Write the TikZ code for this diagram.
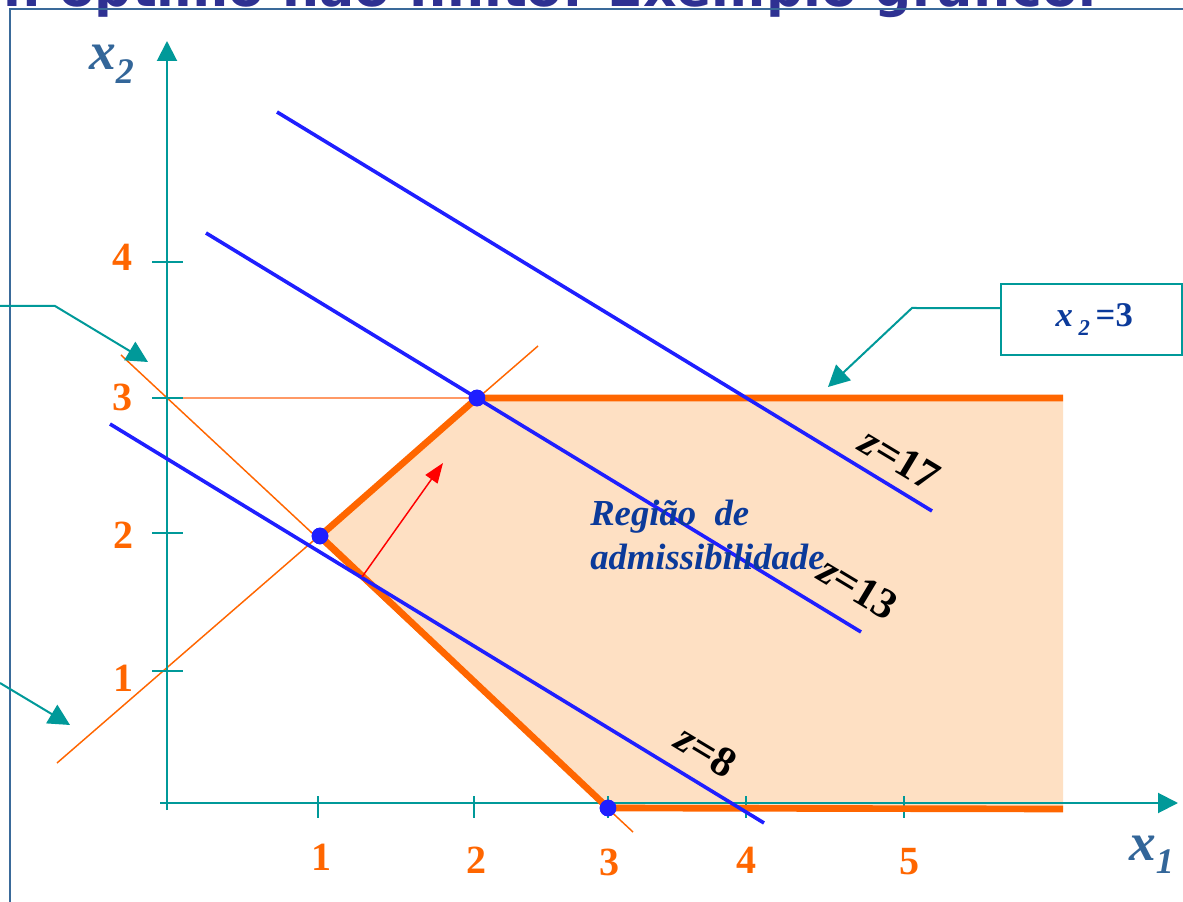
\documentclass[tikz,border=0pt]{standalone}
\usepackage{fontspec}
\setmainfont{Liberation Serif}
\newfontfamily\titlefont{DejaVu Sans}
\usetikzlibrary{arrows.meta}
\definecolor{tealc}{HTML}{009999}
\definecolor{orng}{HTML}{FF6600}
\definecolor{lorng}{HTML}{FF9966}
\definecolor{peach}{HTML}{FEE0C3}
\definecolor{zblue}{HTML}{1F1FFF}
\definecolor{txtblue}{HTML}{0B3A9A}
\definecolor{axlbl}{HTML}{336699}
\definecolor{framec}{HTML}{3A6A9A}
\definecolor{ttl}{HTML}{2E3192}
\begin{document}
\begin{tikzpicture}[x=0.75pt,y=-0.75pt,
  axisline/.style={draw=tealc, line width=1.5pt, -{Triangle[length=15pt,width=15pt]}},
  tickmark/.style={draw=tealc, line width=1.2pt},
  ticklbl/.style={text=orng, font=\fontsize{30}{30}\selectfont\bfseries, inner sep=0pt},
  axlabel/.style={text=axlbl, font=\fontsize{40}{40}\selectfont\bfseries\itshape, inner sep=0pt, anchor=base west},
  objline/.style={draw=zblue, line width=2.7pt},
  consline/.style={draw=orng, line width=1.1pt},
  boundline/.style={draw=orng, line width=5pt},
  vertexdot/.style={circle, fill=zblue, inner sep=0pt, minimum size=12.5pt},
  zlbl/.style={font=\fontsize{32}{32}\selectfont\bfseries, rotate=-31, inner sep=0pt},
  callout/.style={draw=tealc, line width=1.5pt, -{Triangle[length=16pt,width=16pt]}},
  regiontext/.style={text=txtblue, font=\fontsize{27.5}{31}\selectfont\bfseries\itshape, inner sep=0pt, anchor=base west}
]
\useasboundingbox (0,0) rectangle (1183,902);
\clip (0,0) rectangle (1183,902);
\fill[white] (0,0) rectangle (1183,902);

% title (cut off at top)
\node[anchor=base east, inner sep=0pt, text=ttl, font=\fontsize{39}{39}\selectfont\titlefont\bfseries] (title) at (1098,7) {n óptimo não finito: Exemplo gráfico.};

% frame
\draw[framec, line width=1.5pt] (10,902) -- (10,9) -- (1183,9);

% feasible region
\fill[peach] (320,536) -- (477,398) -- (1063,398) -- (1063,809) -- (608,809) -- cycle;

% constraint lines (thin)
\draw[consline] (121,355) -- (633,832);
\draw[consline] (57,763) -- (538,346);
\draw[draw=lorng, line width=1.1pt] (160,398) -- (477,398);

% axes
\draw[axisline] (167,810) -- (167,41);
\draw[axisline] (160,803) -- (1178,803);

% ticks
\foreach \xx in {318,474,608,746,904} \draw[tickmark] (\xx,796) -- (\xx,818);
\foreach \yy in {262,398,533,671} \draw[tickmark] (152,\yy) -- (183,\yy);

% vertices
\node[vertexdot] (A) at (320,536) {};
\node[vertexdot] (B) at (477,398) {};
\node[vertexdot] (C) at (608,808) {};

% boundary
\draw[boundline] (C.center) -- (A.center) -- (B.center) -- (1063,398);
\draw[boundline] (C.center) -- (1063,809);

% objective lines
\draw[objline] (110,424) -- (764,823);
\draw[objline] (206,233) -- (861,632);
\draw[objline] (277,112) -- (932,511);

% redraw dots on top
\node[vertexdot] at (A) {};
\node[vertexdot] at (B) {};
\node[vertexdot] at (C) {};

% gradient arrow
\coordinate (g0) at (362,577);
\coordinate (g1) at (443,463);
\draw[red, line width=1.1pt, -{Triangle[length=15pt,width=11pt]}] (g0) -- (g1);

% tick labels
\node[ticklbl] (lx1) at (321,857) {1};
\node[ticklbl] (lx2) at (476,860) {2};
\node[ticklbl] (lx3) at (609,862) {3};
\node[ticklbl] (lx4) at (746,860) {4};
\node[ticklbl] (lx5) at (909,862) {5};
\node[ticklbl] (ly4) at (122,257) {4};
\node[ticklbl] (ly3) at (122,397) {3};
\node[ticklbl] (ly2) at (123,535) {2};
\node[ticklbl] (ly1) at (123,678) {1};

% axis labels
\node[axlabel] (x2lbl) at (89,70) {x\raisebox{-10pt}{\fontsize{27}{27}\selectfont 2}};
\node[axlabel] (x1lbl) at (1129,860) {x\raisebox{-10pt}{\fontsize{27}{27}\selectfont 1}};

% region text
\node[regiontext] (reg1) at (590,526) {Região\ \ de};
\node[regiontext] (reg2) at (590,570) {admissibilidade};

% z labels
\node[zlbl] (z17) at (900,459) {\textit{z}=17};
\node[zlbl] (z13) at (858,588) {\textit{z}=13};
\node[zlbl] (z8) at (706,751) {\textit{z}=8};

% callout box
\node[draw=tealc, line width=1.5pt, minimum width=135.75pt, minimum height=53.25pt, inner sep=0pt,
      text=txtblue, font=\fontsize{26}{26}\selectfont\bfseries] (box) at (1091.5,319.5)
      {\hspace*{4pt}\textit{x}\,\raisebox{-7pt}{\fontsize{17}{17}\selectfont\textit{2}}\,=3};
\coordinate (bend1) at (912,308);
\coordinate (tip1) at (828,387);
\draw[callout] ([yshift=8.6pt]box.west) -- (bend1) -- (tip1);

% left callouts
\coordinate (s2) at (0,306);
\coordinate (bend2) at (55,306);
\coordinate (tip2) at (148,362);
\draw[callout] (s2) -- (bend2) -- (tip2);
\coordinate (s3) at (0,683);
\coordinate (tip3) at (70,725);
\draw[callout] (s3) -- (tip3);
\end{tikzpicture}
\end{document}
